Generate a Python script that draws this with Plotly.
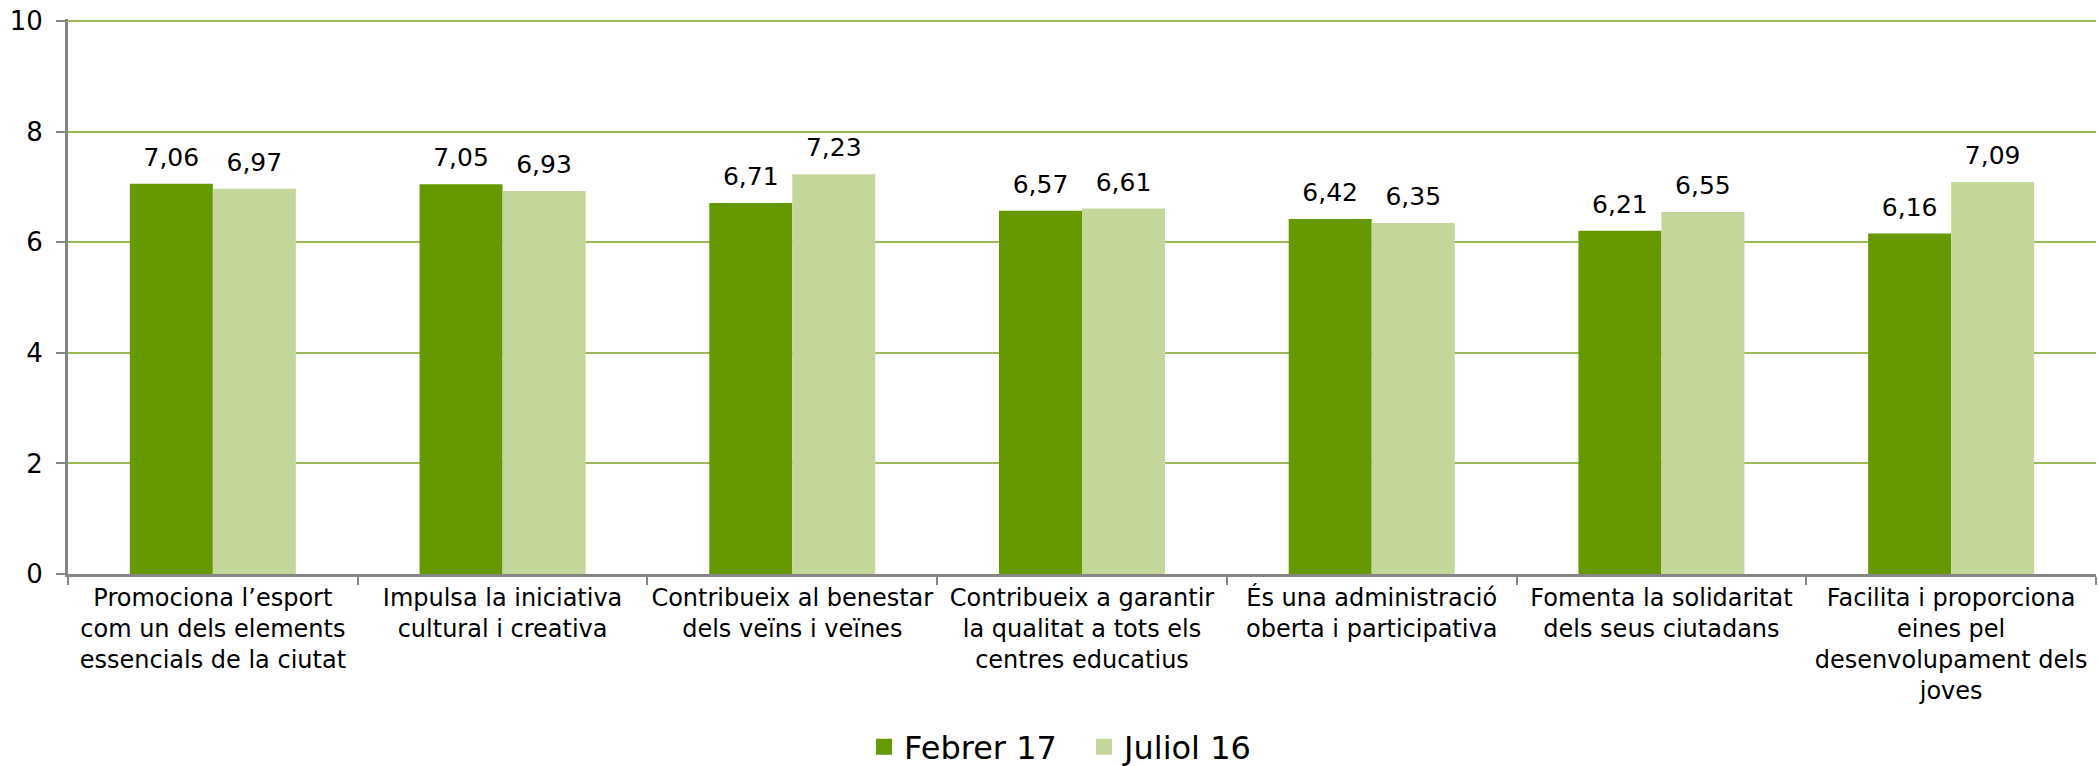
import plotly.graph_objects as go

categories = [
    "Promociona l’esport<br>com un dels elements<br>essencials de la ciutat",
    "Impulsa la iniciativa<br>cultural i creativa",
    "Contribueix al benestar<br>dels veïns i veïnes",
    "Contribueix a garantir<br>la qualitat a tots els<br>centres educatius",
    "És una administració<br>oberta i participativa",
    "Fomenta la solidaritat<br>dels seus ciutadans",
    "Facilita i proporciona<br>eines pel<br>desenvolupament dels<br>joves",
]
series_names = ["Febrer 17", "Juliol 16"]
febrer17 = [7.06, 7.05, 6.71, 6.57, 6.42, 6.21, 6.16]
juliol16 = [6.97, 6.93, 7.23, 6.61, 6.35, 6.55, 7.09]
y_ticks = [0, 2, 4, 6, 8, 10]

colors = ["#669900", "#C4D79B"]
FONT = "DejaVu Sans, Liberation Sans, Arial, sans-serif"
BARGAP = 0.427

def fmt(v):
    return f"{v:.2f}".replace(".", ",")

fig = go.Figure()
for name, vals, col, grp in zip(series_names, [febrer17, juliol16], colors, ["a", "b"]):
    fig.add_trace(go.Bar(
        x=categories, y=vals, name=name, marker=dict(color=col, line=dict(width=0)),
        offsetgroup=grp, showlegend=False, hoverinfo="skip",
    ))
for name, vals, col, grp in zip(series_names, [febrer17, juliol16], colors, ["a", "b"]):
    fig.add_trace(go.Scatter(
        x=categories, y=vals, mode="markers+text", text=[fmt(v) for v in vals],
        textposition="top center", textfont=dict(family=FONT, size=25, color="#000000"),
        marker=dict(size=17, opacity=0), offsetgroup=grp, showlegend=False, hoverinfo="skip",
    ))
for name, col, grp in zip(series_names, colors, ["a", "b"]):
    fig.add_trace(go.Scatter(
        x=[None], y=[None], mode="markers", name=name,
        marker=dict(symbol="square", size=16, color=col), offsetgroup=grp,
    ))

fig.update_layout(
    width=2098, height=766,
    margin=dict(l=68, r=2, t=19, b=192, autoexpand=False),
    plot_bgcolor="#FFFFFF", paper_bgcolor="#FFFFFF",
    barmode="group", bargap=BARGAP, bargroupgap=0,
    scattermode="group", scattergap=BARGAP,
    font=dict(family=FONT, color="#000000"),
    legend=dict(orientation="h", x=0.5167, xanchor="center", xref="container",
                y=0.025, yanchor="middle", yref="container",
                font=dict(family=FONT, size=32), itemsizing="trace", traceorder="normal",
                entrywidth=175),
    showlegend=True,
)
fig.update_xaxes(
    type="category", showline=True, linecolor="#868686", linewidth=3, tickangle=0,
    ticks="outside", tickson="boundaries", ticklen=8, tickcolor="#868686", tickwidth=2,
    tickfont=dict(family=FONT, size=24, color="#000000"), showgrid=False, zeroline=False,
)
fig.update_yaxes(
    range=[0, 10.04], tickvals=y_ticks, showline=True, linecolor="#868686", linewidth=3,
    ticks="outside", ticklen=9, tickcolor="#868686", tickwidth=2, ticklabelstandoff=8,
    tickfont=dict(family=FONT, size=26, color="#000000"),
    showgrid=True, gridcolor="#9BBB59", gridwidth=2, zeroline=False,
)

fig.write_html(
    "out.html",
    config={"displayModeBar": False},
    post_script="document.body.style.margin='0';document.body.style.padding='0';"
                "document.body.style.overflow='hidden';",
)
